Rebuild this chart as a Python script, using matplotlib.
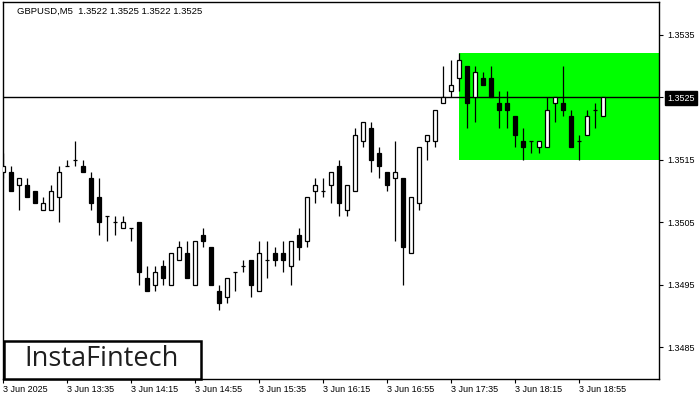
import matplotlib
matplotlib.use("Agg")
import matplotlib.pyplot as plt
from matplotlib.patches import Rectangle

# GBPUSD M5, 3 Jun 2025, one bar every 5 minutes from 12:55
opens = [1.3513, 1.3513, 1.3511, 1.3511, 1.3510, 1.3507, 1.3507, 1.3509, 1.3514, 1.3515,
         1.3514, 1.3512, 1.3509, 1.3506, 1.3505, 1.3504, 1.3504, 1.3505, 1.3496, 1.3495,
         1.3498, 1.3495, 1.3499, 1.3500, 1.3495, 1.3503, 1.3501, 1.3494, 1.3493, 1.3497,
         1.3498, 1.3499, 1.3494, 1.3499, 1.3500, 1.3500, 1.3498, 1.3503, 1.3502, 1.3510,
         1.3510, 1.3511, 1.3514, 1.3507, 1.3510, 1.3518, 1.3520, 1.3516, 1.3513, 1.3512,
         1.3512, 1.3500, 1.3508, 1.3518, 1.3518, 1.3524, 1.3526, 1.3528, 1.3530, 1.3525,
         1.3528, 1.3528, 1.3524, 1.3524, 1.3522, 1.3518, 1.3518, 1.3517, 1.3517, 1.3524,
         1.3524, 1.3522, 1.3518, 1.3519, 1.3523, 1.3522]
highs = [1.3516, 1.3514, 1.3512, 1.3512, 1.3510, 1.3509, 1.3511, 1.3514, 1.3515, 1.3518,
         1.3515, 1.3513, 1.3512, 1.3506, 1.3506, 1.3506, 1.3504, 1.3505, 1.3498, 1.3498,
         1.3499, 1.3500, 1.3502, 1.3502, 1.3502, 1.3504, 1.3501, 1.3495, 1.3496, 1.3497,
         1.3499, 1.3499, 1.3502, 1.3502, 1.3501, 1.3502, 1.3502, 1.3504, 1.3509, 1.3512,
         1.3512, 1.3513, 1.3515, 1.3511, 1.3520, 1.3521, 1.3521, 1.3517, 1.3513, 1.3518,
         1.3512, 1.3509, 1.3517, 1.3519, 1.3523, 1.3530, 1.3531, 1.3532, 1.3530, 1.3530,
         1.3529, 1.3530, 1.3526, 1.3526, 1.3522, 1.3520, 1.3518, 1.3518, 1.3525, 1.3525,
         1.3530, 1.3523, 1.3519, 1.3523, 1.3524, 1.3525]
lows = [1.3512, 1.3510, 1.3507, 1.3509, 1.3508, 1.3507, 1.3507, 1.3505, 1.3514, 1.3514,
        1.3513, 1.3507, 1.3503, 1.3502, 1.3503, 1.3504, 1.3502, 1.3495, 1.3494, 1.3494,
        1.3495, 1.3495, 1.3499, 1.3496, 1.3495, 1.3501, 1.3495, 1.3491, 1.3492, 1.3494,
        1.3497, 1.3493, 1.3494, 1.3496, 1.3498, 1.3497, 1.3495, 1.3499, 1.3501, 1.3508,
        1.3509, 1.3508, 1.3506, 1.3506, 1.3510, 1.3517, 1.3513, 1.3512, 1.3510, 1.3502,
        1.3495, 1.3500, 1.3507, 1.3515, 1.3517, 1.3524, 1.3525, 1.3526, 1.3520, 1.3521,
        1.3527, 1.3525, 1.3520, 1.3520, 1.3517, 1.3515, 1.3516, 1.3516, 1.3517, 1.3521,
        1.3522, 1.3517, 1.3515, 1.3519, 1.3520, 1.3522]
closes = [1.3514, 1.3510, 1.3512, 1.3509, 1.3508, 1.3508, 1.3510, 1.3513, 1.3514, 1.3515,
          1.3513, 1.3508, 1.3505, 1.3506, 1.3505, 1.3505, 1.3504, 1.3497, 1.3494, 1.3497,
          1.3496, 1.3500, 1.3501, 1.3496, 1.3502, 1.3502, 1.3495, 1.3492, 1.3496, 1.3497,
          1.3498, 1.3495, 1.3500, 1.3499, 1.3499, 1.3499, 1.3502, 1.3501, 1.3509, 1.3511,
          1.3510, 1.3513, 1.3508, 1.3511, 1.3519, 1.3521, 1.3515, 1.3514, 1.3511, 1.3513,
          1.3501, 1.3509, 1.3517, 1.3519, 1.3523, 1.3525, 1.3527, 1.3531, 1.3524, 1.3529,
          1.3527, 1.3525, 1.3523, 1.3523, 1.3519, 1.3517, 1.3518, 1.3518, 1.3523, 1.3525,
          1.3523, 1.3517, 1.3518, 1.3522, 1.3523, 1.3525]

tick_pos = [0, 8, 16, 24, 32, 40, 48, 56, 64, 72]
tick_labels = ['3 Jun 2025', '3 Jun 13:35', '3 Jun 14:15', '3 Jun 14:55', '3 Jun 15:35',
               '3 Jun 16:15', '3 Jun 16:55', '3 Jun 17:35', '3 Jun 18:15', '3 Jun 18:55']
price_ticks = [1.3535, 1.3525, 1.3515, 1.3505, 1.3495, 1.3485]

last_price = 1.3525
zone_start = 57
zone_low, zone_high = 1.3515, 1.3532

plt.rcParams['font.family'] = ['Liberation Sans', 'DejaVu Sans']

fig = plt.figure(figsize=(7, 4), dpi=100)
ax = fig.add_axes([3 / 700, 21 / 400, 656 / 700, 377 / 400])
ax.set_xlim(0, 82)
ax.set_ylim(1.34799, 1.35402)

# green zone
ax.add_patch(Rectangle((zone_start, zone_low), 100, zone_high - zone_low,
                       facecolor='#00ff00', edgecolor='none', zorder=0))
ax.axhline(last_price, color='black', lw=1, zorder=1)

w = 0.62
for i in range(len(opens)):
    o, h, l, c = opens[i], highs[i], lows[i], closes[i]
    ax.vlines(i, l, h, color='black', lw=0.9, zorder=2)
    if o == c:
        ax.hlines(o, i - w / 2, i + w / 2, color='black', lw=0.9, zorder=3)
    else:
        fc = 'white' if c > o else 'black'
        ax.bar(i, abs(c - o), bottom=min(o, c), width=w, facecolor=fc,
               edgecolor='black', linewidth=0.9, zorder=3)

for s in ax.spines.values():
    s.set_color('black')
    s.set_linewidth(1)

ax.set_xticks(tick_pos)
ax.set_xticklabels(tick_labels, ha='left', fontsize=6.5)
ax.tick_params(axis='x', length=3, width=0.8, pad=1.5)

ax.yaxis.tick_right()
ax.set_yticks(price_ticks)
ax.set_yticklabels([f'{p:.4f}' for p in price_ticks], fontsize=6.5)
ax.tick_params(axis='y', length=3, width=0.8, pad=3)
for lab, p in zip(ax.get_yticklabels(), price_ticks):
    if p == last_price:
        lab.set_color('white')
        lab.set_bbox(dict(facecolor='black', edgecolor='black', pad=1.5))

ax.text(0.022, 0.975, 'GBPUSD,M5  1.3522 1.3525 1.3522 1.3525', transform=ax.transAxes,
        fontsize=6.8, va='center', ha='left')

# logo box
fig.patches.append(Rectangle((4 / 700, 21 / 400), 197 / 700, 38 / 400, transform=fig.transFigure,
                             facecolor='white', edgecolor='black', linewidth=1.8, zorder=5))
fig.text(102 / 700, (400 - 359) / 400, 'InstaFintech', fontsize=19.5, family='Open Sans',
         color='#1e1e1e', ha='center', va='center', zorder=6)

fig.savefig('out.png', dpi=100)
